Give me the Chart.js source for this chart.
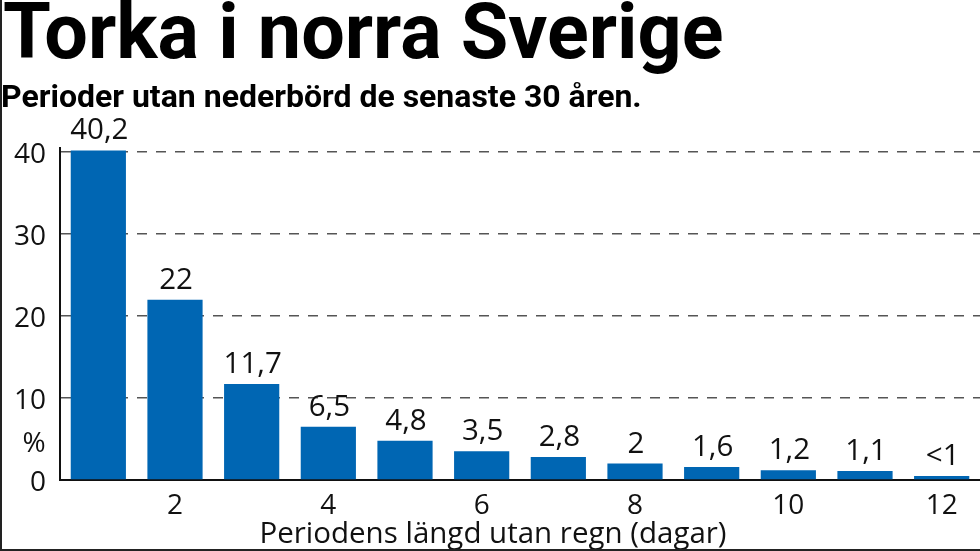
<!DOCTYPE html>
<html>
<head>
<meta charset="utf-8">
<style>
  html, body { margin: 0; padding: 0; background: #fff; overflow: hidden; }
  #wrap { position: relative; width: 980px; height: 551px; }
  #frame { position: absolute; left: 0; top: 0; width: 978px; height: 549px; border-left: 2px solid #222; border-bottom: 2px solid #222; pointer-events: none; }
  h1, h2 { position: absolute; margin: 0; font-family: Roboto, sans-serif; font-weight: 700; color: #000; white-space: nowrap; }
  h1 { left: 3px; top: -13px; font-size: 77.3px; line-height: 90px; }
  h2 { left: 1px; top: 78px; font-size: 32px; line-height: 36px; }
  canvas { position: absolute; left: 0; top: 0; }
</style>
</head>
<body>
<div id="wrap">
  <canvas id="chart" width="980" height="551"></canvas>
  <h1>Torka i norra Sverige</h1>
  <h2>Perioder utan nederbörd de senaste 30 åren.</h2>
  <div id="frame"></div>
</div>
<script src="https://cdn.jsdelivr.net/npm/chart.js@4"></script>
<script>
var days = ["1", "2", "3", "4", "5", "6", "7", "8", "9", "10", "11", "12"];
var percent = [40.2, 22, 11.7, 6.5, 4.8, 3.5, 2.8, 2, 1.6, 1.2, 1.1, 0.5];
var valueLabels = ["40,2", "22", "11,7", "6,5", "4,8", "3,5", "2,8", "2", "1,6", "1,2", "1,1", "<1"];
var yTicks = [0, 10, 20, 30, 40];

var textFont = '"Open Sans", sans-serif';

// värdena ovanför staplarna + % och x-axelns rubrik
var labelsPlugin = {
    id: "labels",
    afterDatasetsDraw: function(chart) {
        var ctx = chart.ctx;
        var bars = chart.getDatasetMeta(0).data;
        ctx.save();
        ctx.fillStyle = "#111";
        ctx.textAlign = "center";
        ctx.textBaseline = "alphabetic";
        ctx.font = "29.5px " + textFont;
        bars.forEach(function(bar, i) {
            ctx.fillText(valueLabels[i], bar.x + 1, bar.y - 11);
        });
        ctx.font = "28px " + textFont;
        ctx.fillText("%", 34, 452);
        ctx.font = "29.5px " + textFont;
        ctx.fillText("Periodens längd utan regn (dagar)", 493, 543);
        ctx.restore();
    }
};

new Chart(document.getElementById("chart"), {
    type: "bar",
    data: {
        labels: days,
        datasets: [{
            data: percent,
            backgroundColor: "#0066b3",
            categoryPercentage: 1,
            barPercentage: 0.72
        }]
    },
    options: {
        responsive: false,
        animation: false,
        devicePixelRatio: 1,
        layout: { padding: { top: 148, right: 0, left: 0, bottom: 0 } },
        plugins: { legend: { display: false }, tooltip: { enabled: false } },
        scales: {
            x: {
                afterFit: function(scale) { scale.height = 71; },
                grid: { display: false },
                border: { color: "#111", width: 2 },
                ticks: {
                    autoSkip: false,
                    maxRotation: 0,
                    color: "#111",
                    font: { family: textFont, size: 28 },
                    padding: 1,
                    callback: function(value, index) {
                        return (index + 1) % 2 === 0 ? days[index] : "";
                    }
                }
            },
            y: {
                min: 0,
                max: 40.5,
                afterFit: function(scale) { scale.width = 60; },
                afterBuildTicks: function(scale) {
                    scale.ticks = yTicks.map(function(v) { return { value: v }; });
                },
                grid: {
                    color: function(c) { return c.tick.value === 0 ? "rgba(0,0,0,0)" : "#555"; },
                    lineWidth: 1.5,
                    tickLength: 0
                },
                border: { color: "#111", width: 2, dash: [10, 9] },
                ticks: {
                    color: "#111",
                    font: { family: textFont, size: 28 },
                    padding: 14,
                    labelOffset: 3
                }
            }
        }
    },
    plugins: [labelsPlugin]
});
</script>
</body>
</html>
